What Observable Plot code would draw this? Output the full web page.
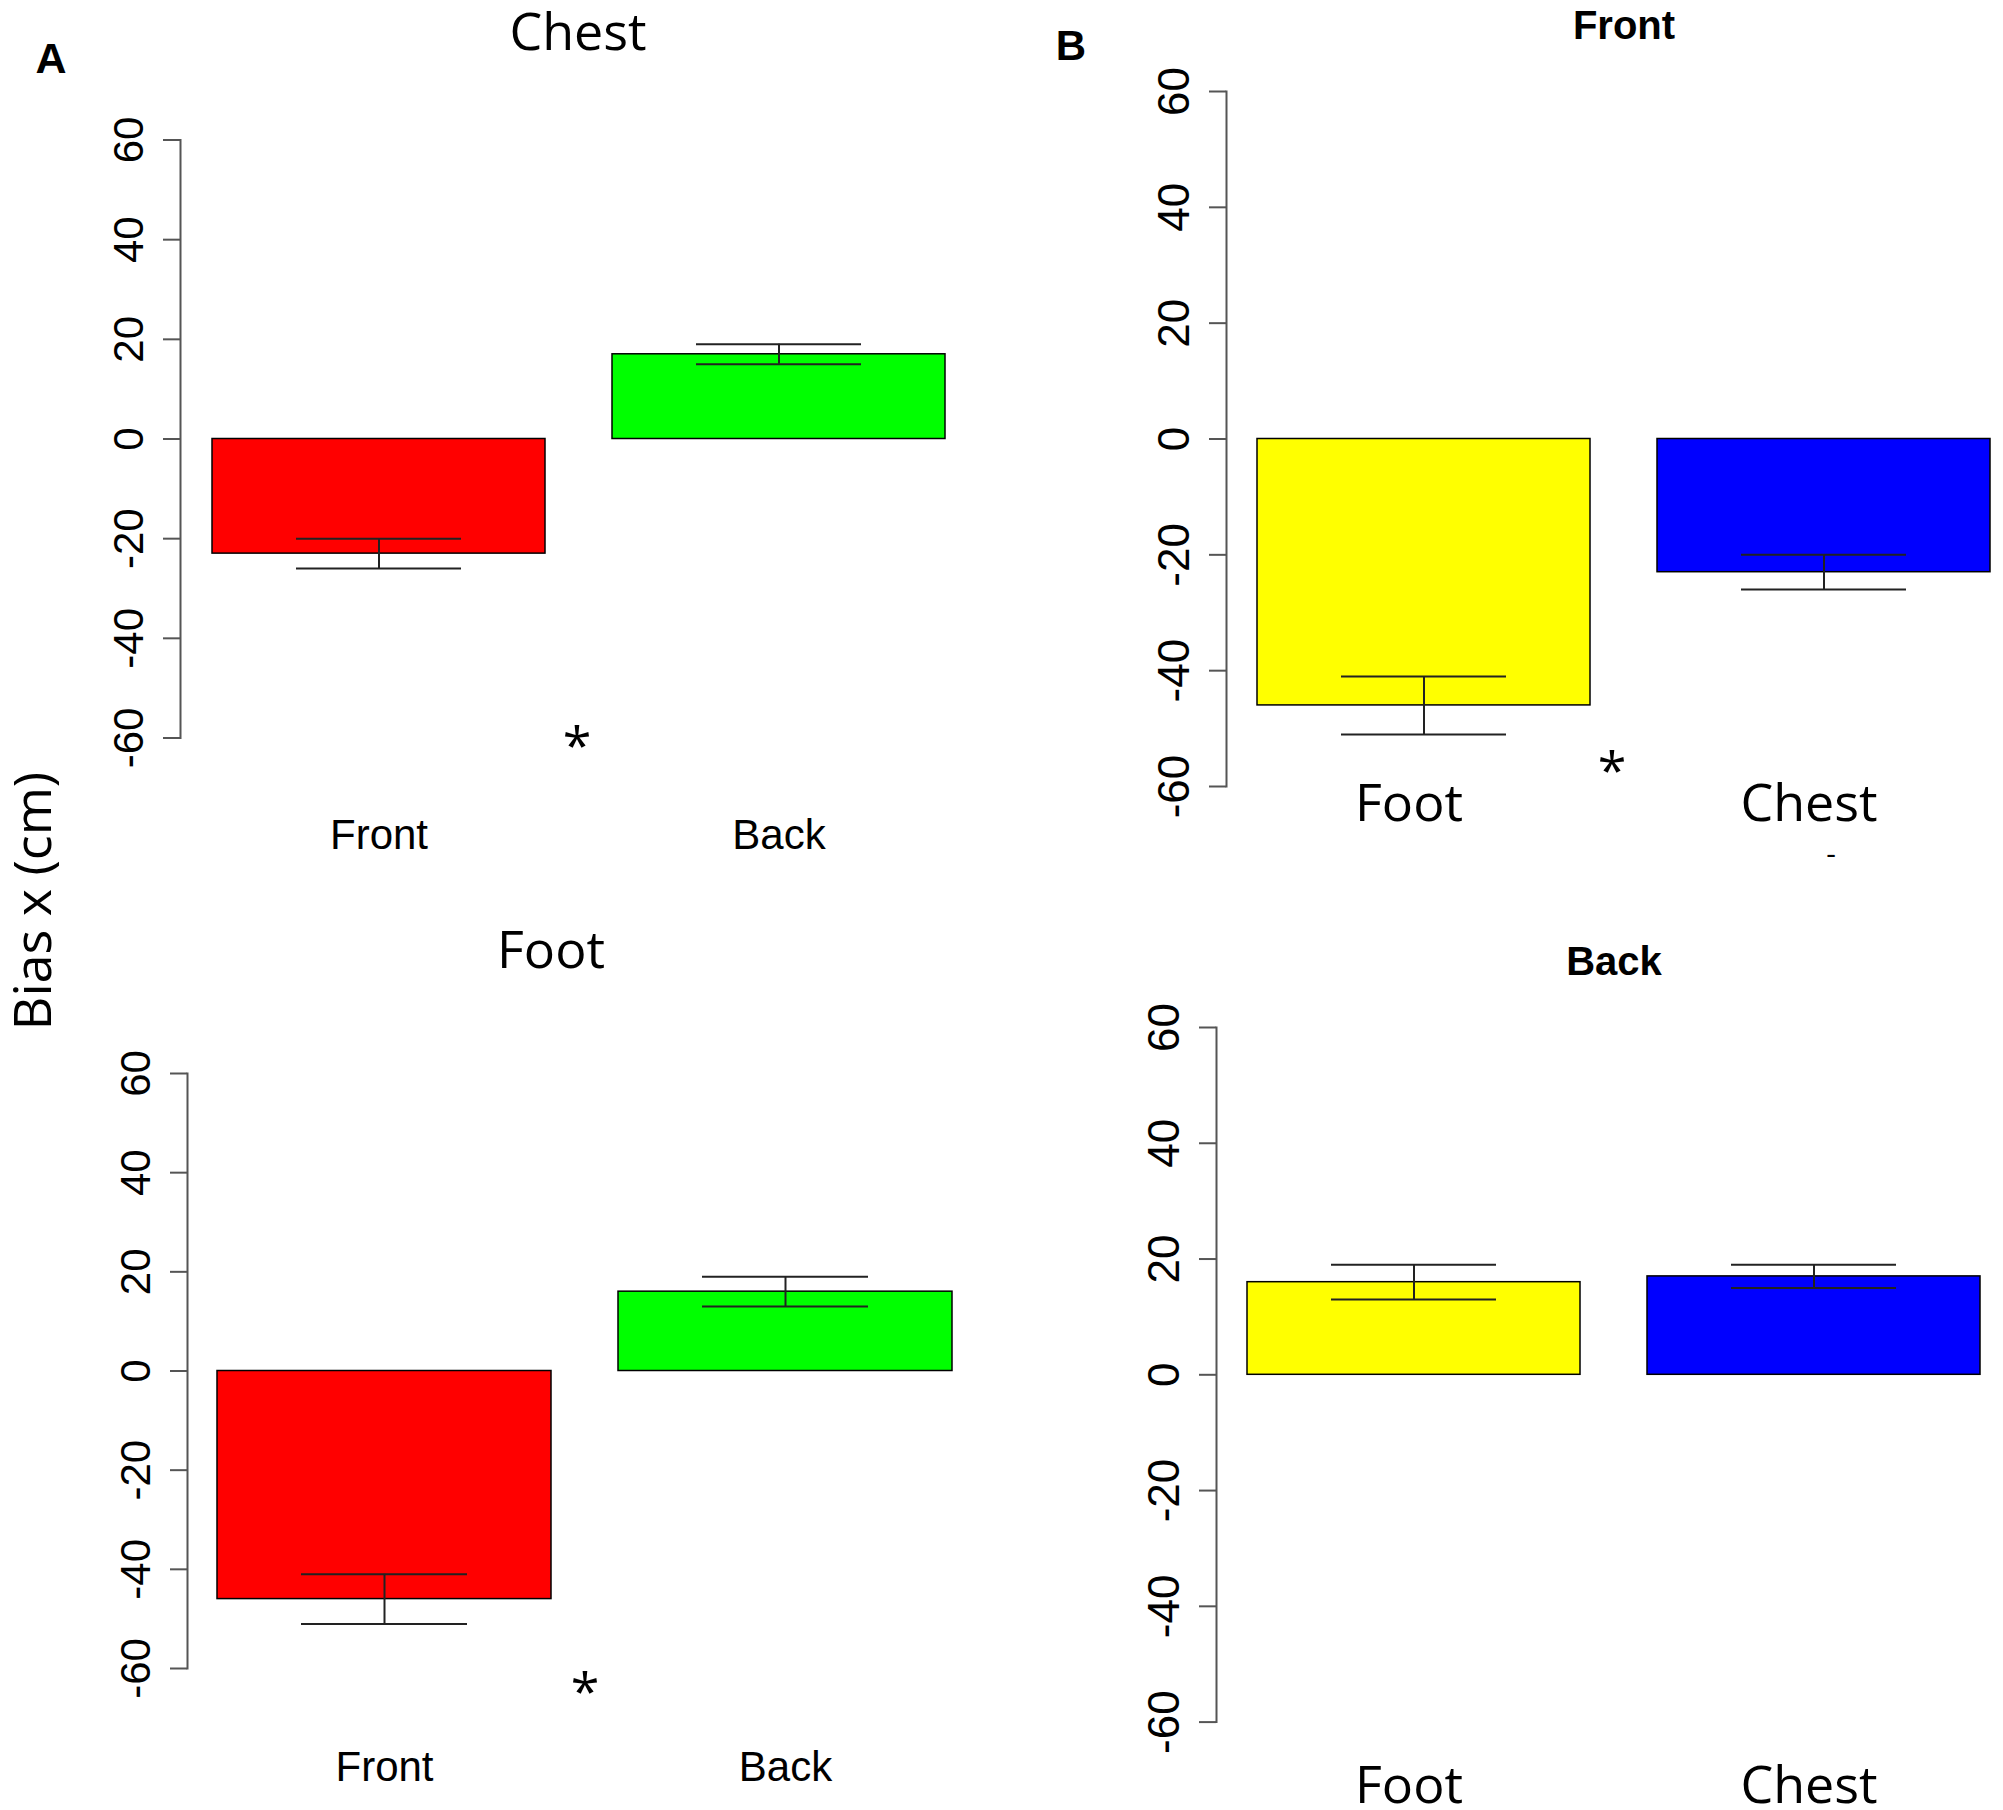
<!DOCTYPE html>
<html><head><meta charset="utf-8">
<script src="https://cdn.jsdelivr.net/npm/d3@7"></script>
<script src="https://cdn.jsdelivr.net/npm/@observablehq/plot@0.6"></script>
<style>
body{margin:0;background:#fff;}
#wrap{position:relative;width:2003px;height:1810px;overflow:hidden;background:#fff;}
.p{position:absolute;}
.t{position:absolute;white-space:nowrap;line-height:1;color:#000;}
</style></head><body><div id="wrap"></div>
<script>
// ---- data ----
const yTicks = [-60, -40, -20, 0, 20, 40, 60];
const catsA = ["Front", "Back"];
const catsB = ["Foot", "Chest"];
const chestMean = [-23, 17], chestLo = [-26, 15], chestHi = [-20, 19];
const footMean = [-46, 16], footLo = [-51, 13], footHi = [-41, 19];
const frontMean = [-46, -23], frontLo = [-51, -26], frontHi = [-41, -20];
const backMean = [16, 17], backLo = [13, 15], backHi = [19, 19];
const colorsA = ["#ff0000", "#00ff00"];
const colorsB = ["#ffff00", "#0000ff"];

const wrap = document.getElementById("wrap");

function panel(cfg) {
  const data = cfg.cats.map((c, i) => ({cat: c, mean: cfg.mean[i], lo: cfg.lo[i], hi: cfg.hi[i]}));
  const svg = Plot.plot({
    width: cfg.width, height: cfg.height,
    marginLeft: cfg.ml, marginRight: 0, marginTop: cfg.mt, marginBottom: cfg.mb,
    style: {background: "transparent", overflow: "visible"},
    x: {domain: cfg.cats, paddingInner: 0.167, paddingOuter: 0, insetLeft: cfg.il, insetRight: cfg.ir, label: null},
    y: {domain: [-60, 60], label: null},
    color: {domain: cfg.cats, range: cfg.colors},
    marks: [
      Plot.barY(data, {x: "cat", y: "mean", fill: "cat", stroke: "#000", strokeWidth: 1.5}),
      Plot.ruleX(data, {x: "cat", y1: "lo", y2: "hi", stroke: "#222", strokeWidth: 2}),
      Plot.tickY(data, {x: "cat", y: "lo", stroke: "#222", strokeWidth: 2, insetLeft: 84, insetRight: 84}),
      Plot.tickY(data, {x: "cat", y: "hi", stroke: "#222", strokeWidth: 2, insetLeft: 84, insetRight: 84}),
      Plot.frame({anchor: "left", stroke: "#555", strokeWidth: 2}),
      Plot.axisY({ticks: yTicks, tickFormat: d => String(d), tickSize: 17, tickPadding: 21, tickRotate: -90, label: null,
        stroke: "#555", strokeWidth: 2, fill: "#000", fontSize: cfg.yfs, fontFamily: "Liberation Sans, Arial, sans-serif"}),
      Plot.axisX({tickSize: 0, tickPadding: cfg.xpad, label: null, dx: cfg.xdx,
        fill: "#000", fontSize: cfg.xfs, fontFamily: cfg.xff})
    ]
  });
  svg.classList.add("p");
  svg.style.left = cfg.left + "px";
  svg.style.top = cfg.top + "px";
  wrap.appendChild(svg);
}

const SANS = "Liberation Sans, Arial, sans-serif";
const OPEN = "Open Sans, sans-serif";

panel({cats: catsA, mean: chestMean, lo: chestLo, hi: chestHi, colors: colorsA,
  left: 0, top: 0, width: 1000, height: 900, ml: 180, mt: 139.5, mb: 162.5, il: 31, ir: 54,
  yfs: 42, xfs: 42, xff: SANS, xpad: 81, xdx: 0});
panel({cats: catsB, mean: frontMean, lo: frontLo, hi: frontHi, colors: colorsB,
  left: 1000, top: 0, width: 1003, height: 900, ml: 226, mt: 91, mb: 114, il: 30, ir: 12,
  yfs: 44, xfs: 52, xff: OPEN, xpad: -2, xdx: -15});
panel({cats: catsA, mean: footMean, lo: footLo, hi: footHi, colors: colorsA,
  left: 0, top: 900, width: 1000, height: 910, ml: 187, mt: 173, mb: 142, il: 30, ir: 47,
  yfs: 42, xfs: 42, xff: SANS, xpad: 83, xdx: 0});
panel({cats: catsB, mean: backMean, lo: backLo, hi: backHi, colors: colorsB,
  left: 1000, top: 900, width: 1003, height: 910, ml: 216, mt: 127, mb: 88.4, il: 31, ir: 22,
  yfs: 44, xfs: 52, xff: OPEN, xpad: 44, xdx: -5});

// ---- annotations ----
function txt(s, cx, baseline, size, family, weight, base) {
  const d = document.createElement("div");
  d.className = "t";
  d.textContent = s;
  d.style.fontSize = size + "px";
  d.style.fontFamily = family;
  d.style.fontWeight = weight || "normal";
  d.style.left = cx + "px";
  d.style.top = (baseline - base * size) + "px";
  d.style.transform = "translateX(-50%)";
  wrap.appendChild(d);
  return d;
}
const OB = 0.888, LB = 0.8465;
txt("A", 51, 73, 43, SANS, "bold", LB);
txt("B", 1071, 61, 42, SANS, "bold", LB);
txt("Chest", 578, 50, 52, OPEN, "normal", OB);
txt("Front", 1624, 39, 40, SANS, "bold", LB);
txt("Foot", 551, 968, 52, OPEN, "normal", OB);
txt("Back", 1614, 975, 40, SANS, "bold", LB);
txt("*", 577, 764, 52, OPEN, "normal", OB);
txt("*", 1612, 789, 52, OPEN, "normal", OB);
txt("*", 585, 1710, 52, OPEN, "normal", OB);

// small stray dash below "Chest" (panel B, top)
const dash = document.createElement("div");
dash.className = "t";
dash.textContent = "-";
dash.style.fontSize = "30px";
dash.style.fontFamily = OPEN;
dash.style.lineHeight = "10px";
dash.style.height = "10px";
dash.style.left = "1831px";
dash.style.top = "848px";
dash.style.transform = "translateX(-50%)";
wrap.appendChild(dash);

const yl = document.createElement("div");
yl.className = "t";
yl.textContent = "Bias x (cm)";
yl.style.fontSize = "52px";
yl.style.fontFamily = OPEN;
yl.style.left = "31px";
yl.style.top = "901px";
yl.style.transform = "translate(-50%, -50%) rotate(-90deg)";
wrap.appendChild(yl);
</script></body></html>
